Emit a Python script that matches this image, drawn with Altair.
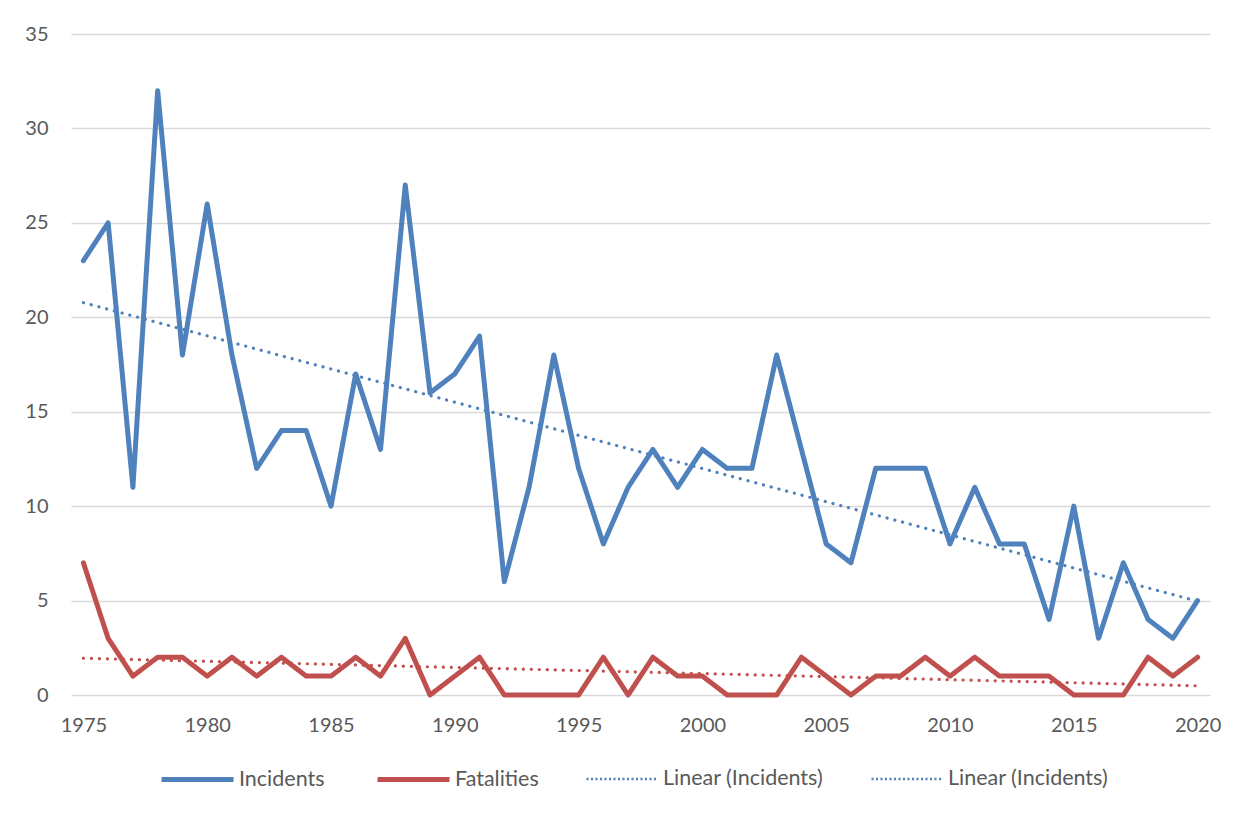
import altair as alt
import pandas as pd

years = list(range(1975, 2021))
incidents = [23, 25, 11, 32, 18, 26, 18, 12, 14, 14, 10, 17, 13, 27, 16, 17, 19, 6, 11, 18,
             12, 8, 11, 13, 11, 13, 12, 12, 18, 13, 8, 7, 12, 12, 12, 8, 11, 8, 8, 4,
             10, 3, 7, 4, 3, 5]
fatalities = [7, 3, 1, 2, 2, 1, 2, 1, 2, 1, 1, 2, 1, 3, 0, 1, 2, 0, 0, 0,
              0, 2, 0, 2, 1, 1, 0, 0, 0, 2, 1, 0, 1, 1, 2, 1, 2, 1, 1, 1,
              0, 0, 0, 2, 1, 2]
series_names = ["Incidents", "Fatalities", "Linear (Incidents)", "Linear (Fatalities)"]
x_ticks = [1975, 1980, 1985, 1990, 1995, 2000, 2005, 2010, 2015, 2020]
y_ticks = [0, 5, 10, 15, 20, 25, 30, 35]

BLUE = "#4F81BD"
RED = "#C0504D"
FONT = "Lato"

df = pd.concat([
    pd.DataFrame({"year": years, "value": incidents, "series": "Incidents"}),
    pd.DataFrame({"year": years, "value": fatalities, "series": "Fatalities"}),
])

x_enc = alt.X("year:Q", scale=alt.Scale(domain=[1974.5, 2020.5], nice=False, zero=False),
              axis=alt.Axis(values=x_ticks, format="d", title=None, grid=False, ticks=False,
                            domain=False, labelPadding=20))
y_enc = alt.Y("value:Q", scale=alt.Scale(domain=[0, 35], nice=False),
              axis=alt.Axis(values=y_ticks, title=None, ticks=False, domain=False,
                            labelPadding=23, gridColor="#D9D9D9", gridWidth=1.5))

label_expr = "datum.label == 'Linear (Fatalities)' ? 'Linear (Incidents)' : datum.label"


def make_legend():
    return alt.Legend(title=None, orient="none", direction="horizontal",
                      legendX=88, legendY=707, symbolType="stroke",
                      symbolSize=5184, columnPadding=42, labelOffset=3,
                      labelLimit=400, labelExpr=label_expr)


base = alt.Chart(df)

lines = base.mark_line(strokeCap="round", strokeJoin="round").encode(
    x=x_enc,
    y=y_enc,
    color=alt.Color("series:N",
                    scale=alt.Scale(domain=series_names, range=[BLUE, RED, BLUE, BLUE]),
                    legend=make_legend()),
    strokeDash=alt.StrokeDash("series:N",
                              scale=alt.Scale(domain=series_names,
                                              range=[[1, 0], [1, 0], [2, 2.5], [2, 2.5]]),
                              legend=make_legend()),
    strokeWidth=alt.StrokeWidth("series:N",
                                scale=alt.Scale(type="ordinal", domain=series_names,
                                                range=[5, 5, 2.5, 2.5]),
                                legend=make_legend()),
    detail="series:N",
)

trend_inc = base.transform_filter(alt.datum.series == "Incidents").transform_regression(
    "year", "value", method="linear"
).mark_line(strokeWidth=3.2, strokeDash=[0.1, 7.9], strokeCap="round", color=BLUE).encode(
    x=x_enc, y=y_enc
)

trend_fat = base.transform_filter(alt.datum.series == "Fatalities").transform_regression(
    "year", "value", method="linear"
).mark_line(strokeWidth=3.2, strokeDash=[0.1, 7.9], strokeCap="round", color=RED).encode(
    x=x_enc, y=y_enc
)

chart = alt.layer(trend_inc, trend_fat, lines).properties(
    width=1139, height=661,
    autosize=alt.AutoSizeParams(type="none"),
    padding={"left": 63, "top": 26, "right": 26, "bottom": 100},
    background="white",
).configure_view(stroke=None).configure_axis(
    labelFont=FONT, labelFontSize=20, labelColor="#595959"
).configure_legend(
    labelFont=FONT, labelFontSize=21.5, labelColor="#595959", padding=0, labelLimit=400
)

chart.save("out.html", embed_options={"renderer": "svg", "actions": False})
